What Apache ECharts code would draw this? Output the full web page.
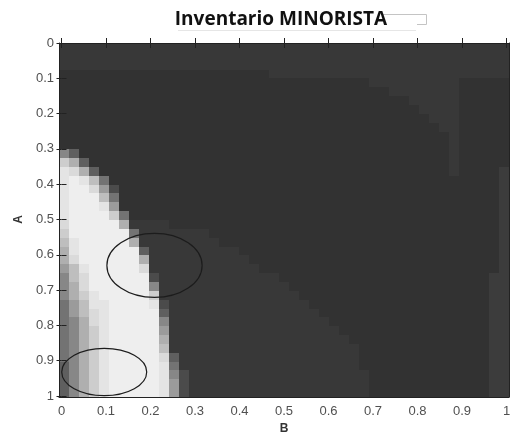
<!DOCTYPE html>
<html>
<head>
<meta charset="utf-8">
<title>Inventario MINORISTA</title>
<script src="https://cdn.jsdelivr.net/npm/echarts@6/dist/echarts.min.js"></script>
<style>
  html, body { margin: 0; padding: 0; background: #ffffff; }
  #chart { width: 510px; height: 434px; }
</style>
</head>
<body>
<div id="chart"></div>
<script>
// gray level (0-255) for each cell code used below
const levelCodes = {
  '.': 50, '-': 56, '=': 60,
  '1': 75, '2': 95, '3': 115, '4': 135, '5': 155,
  '6': 175, '7': 190, '8': 205, '9': 218, 'a': 228, 'b': 238, 'c': 244
}

// one row per A step (top row = A 0), one code per B column
// "x*n" means n cells of code x
const cellRows = [
  '-*45',
  '-*45',
  '-*45',
  '.*21 -*24',
  '.*31 -*9 .*5',
  '.*33 -*7 .*5',
  '.*35 -*5 .*5',
  '.*36 -*4 .*5',
  '.*37 -*3 .*5',
  '.*38 -*2 .*5',
  '.*39 - .*5',
  '.*39 - .*5',
  '42 .*37 - .*5',
  '862 .*36 - .*5',
  'a962 .*35 - .*4 =',
  'aba73 .*39 =',
  'abb951 .*38 =',
  'abbb73 .*38 =',
  'abbba5 .*38 =',
  'abbbb83 .*37 =',
  '9bbbbb6 -*4 .*33 =',
  '8bbbbbb3 -*7 .*29 =',
  '7abbbbb6 -*8 .*28 =',
  '6abbbbbb2 -*9 .*26 =',
  '69bbbbbb6 -*10 .*25 =',
  '57abbbbb9 -*11 .*24 =',
  '479bbbbbb1 -*12 .*21 ==',
  '469bbbbbb4 -*13 .*20 ==',
  '468abbbbb8 -*14 .*19 ==',
  '357aabbbba1 -*14 .*18 ==',
  '3579abbbbb2 -*15 .*17 ==',
  '3469abbbbb4 -*16 .*16 ==',
  '3468abbbbb5 -*17 .*15 ==',
  '3468abbbbb6 -*18 .*14 ==',
  '3468abbbbb7 -*19 .*13 ==',
  '3468abbbbb92 -*18 .*13 ==',
  '2468abbbbba3 -*18 .*13 ==',
  '2468abbbbba41 -*18 .*12 ==',
  '2468abbbbba51 -*18 .*12 ==',
  '2468abbbbba51 -*18 .*12 =='
]

// the two hand drawn ellipses: centre B, centre A, half width in B, half height in A
const ellipseB = [0.209, 0.096]
const ellipseA = [0.63, 0.932]
const ellipseRB = [0.107, 0.0955]
const ellipseRA = [0.0907, 0.067]

const bTicks = [0, 0.1, 0.2, 0.3, 0.4, 0.5, 0.6, 0.7, 0.8, 0.9, 1]
const aTicks = [0, 0.1, 0.2, 0.3, 0.4, 0.5, 0.6, 0.7, 0.8, 0.9, 1]

function expandRow(spec) {
  return spec.split(' ').map(t => {
    const m = t.match(/^(.)\*(\d+)$/)
    return m ? m[1].repeat(+m[2]) : t
  }).join('')
}

const rows = cellRows.map(expandRow)
const colCount = 45
const colCategories = []
for (let c = 0; c < colCount; c++) colCategories.push('b' + c)
const rowCategories = rows.map((r, i) => 'a' + i)

const cells = []
rows.forEach((row, r) => {
  for (let c = 0; c < colCount; c++) {
    cells.push([c, r, levelCodes[row[c] || '.']])
  }
})

const ellipses = ellipseB.map((b, i) => [b, ellipseA[i], ellipseRB[i], ellipseRA[i]])

const labelFont = { color: '#505050', fontSize: 13, fontFamily: 'Liberation Sans, Arial, sans-serif' }
const nameFont = { fontWeight: 'bold', fontSize: 12, color: '#333333', fontFamily: 'Liberation Sans, Arial, sans-serif' }
const frameLine = { show: true, lineStyle: { color: '#222222', width: 1 } }
const tickStyle = { show: true, inside: true, length: 5, lineStyle: { color: '#222222' } }

const chart = echarts.init(document.getElementById('chart'), null, { renderer: 'canvas' })

chart.setOption({
  animation: false,
  title: {
    text: 'Inventario MINORISTA',
    left: 276,
    top: 5,
    textAlign: 'center',
    textStyle: { fontFamily: 'Open Sans', fontWeight: 'bold', fontSize: 19, color: '#111111' }
  },
  graphic: [
    { type: 'line', shape: { x1: 178, y1: 30.5, x2: 416, y2: 30.5 }, style: { stroke: '#e6e6e6', lineWidth: 1 } },
    { type: 'polyline', shape: { points: [[383, 14.5], [426.5, 14.5], [426.5, 24.5], [417, 24.5]] }, style: { stroke: '#c4c4c4', fill: null, lineWidth: 1 } }
  ],
  visualMap: {
    show: false,
    type: 'continuous',
    min: 0,
    max: 255,
    seriesIndex: 0,
    dimension: 2,
    inRange: { color: ['#000000', '#ffffff'] }
  },
  grid: [
    { left: 59, top: 43, width: 450, height: 354, outerBoundsMode: 'none' },
    { left: 61.5, top: 43, width: 445, height: 353, outerBoundsMode: 'none' }
  ],
  xAxis: [
    { gridIndex: 0, type: 'category', data: colCategories, position: 'bottom', z: 3,
      axisLine: frameLine, axisTick: { show: false }, axisLabel: { show: false }, splitLine: { show: false } },
    { gridIndex: 0, type: 'category', data: colCategories, position: 'top', z: 3,
      axisLine: frameLine, axisTick: { show: false }, axisLabel: { show: false }, splitLine: { show: false } },
    { gridIndex: 1, type: 'value', min: 0, max: 1, interval: 0.1, position: 'bottom', offset: 1, z: 3,
      name: 'B', nameLocation: 'middle', nameGap: 23, nameTextStyle: nameFont,
      axisLine: { show: false }, axisTick: tickStyle,
      axisLabel: Object.assign({ margin: 8, formatter: v => String(bTicks[Math.round(v * 10)]) }, labelFont),
      splitLine: { show: false } },
    { gridIndex: 1, type: 'value', min: 0, max: 1, interval: 0.1, position: 'top', z: 3,
      axisLine: { show: false }, axisTick: tickStyle, axisLabel: { show: false }, splitLine: { show: false } }
  ],
  yAxis: [
    { gridIndex: 0, type: 'category', data: rowCategories, inverse: true, position: 'left', z: 3,
      axisLine: frameLine, axisTick: { show: false }, axisLabel: { show: false }, splitLine: { show: false } },
    { gridIndex: 0, type: 'category', data: rowCategories, inverse: true, position: 'right', z: 3,
      axisLine: frameLine, axisTick: { show: false }, axisLabel: { show: false }, splitLine: { show: false } },
    { gridIndex: 1, type: 'value', min: 0, max: 1, interval: 0.1, inverse: true, position: 'left', offset: 2.5, z: 3,
      name: 'A', nameLocation: 'middle', nameGap: 27, nameRotate: 90, nameTextStyle: nameFont,
      axisLine: { show: false }, axisTick: tickStyle,
      axisLabel: Object.assign({ margin: 5, formatter: v => String(aTicks[Math.round(v * 10)]) }, labelFont),
      splitLine: { show: false } },
    { gridIndex: 1, type: 'value', min: 0, max: 1, interval: 0.1, inverse: true, position: 'right', offset: 2.5, z: 3,
      axisLine: { show: false }, axisTick: tickStyle, axisLabel: { show: false }, splitLine: { show: false } }
  ],
  series: [
    {
      // image cells, snapped to whole pixels so no seams show between rows
      type: 'custom',
      xAxisIndex: 0,
      yAxisIndex: 0,
      data: cells,
      silent: true,
      z: 2,
      renderItem: (params, api) => {
        const p = api.coord([api.value(0), api.value(1)])
        const s = api.size([1, 1])
        const x0 = Math.round(p[0] - s[0] / 2)
        const x1 = Math.round(p[0] + s[0] / 2)
        const y0 = Math.round(p[1] - s[1] / 2)
        const y1 = Math.round(p[1] + s[1] / 2)
        return {
          type: 'rect',
          shape: { x: x0, y: y0, width: x1 - x0, height: y1 - y0 },
          style: { fill: api.visual('color') }
        }
      }
    },
    {
      type: 'custom',
      xAxisIndex: 2,
      yAxisIndex: 2,
      data: ellipses,
      clip: false,
      silent: true,
      z: 4,
      renderItem: (params, api) => {
        const c = api.coord([api.value(0), api.value(1)])
        const s = api.size([api.value(2), api.value(3)])
        return {
          type: 'ellipse',
          shape: { cx: c[0], cy: c[1], rx: Math.abs(s[0]), ry: Math.abs(s[1]) },
          style: { fill: null, stroke: '#1c1c1c', lineWidth: 1.2 }
        }
      }
    }
  ]
})
</script>
</body>
</html>
